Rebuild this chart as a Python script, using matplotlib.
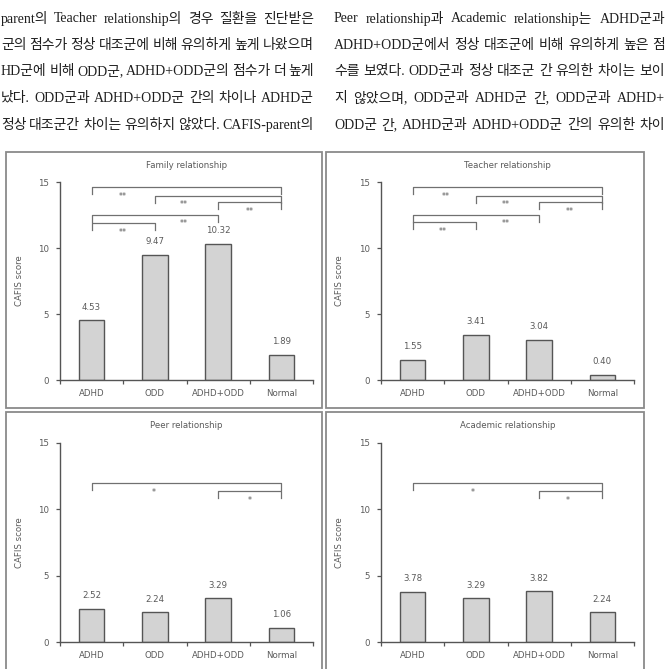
import matplotlib
matplotlib.use("Agg")
import matplotlib.pyplot as plt
import matplotlib.patches as mpatches

W, H = 667, 669  # figure size in pixels (dpi 100)

groups = ["ADHD", "ODD", "ADHD+ODD", "Normal"]
family_scores = [4.53, 9.47, 10.32, 1.89]
teacher_scores = [1.55, 3.41, 3.04, 0.40]
peer_scores = [2.52, 2.24, 3.29, 1.06]
academic_scores = [3.78, 3.29, 3.82, 2.24]

# significance brackets: (left group, right group, bracket height, mark, mark x)
family_sig = [
    (0, 3, 14.64, "**", 0.5),
    (1, 3, 13.97, "**", 1.45),
    (2, 3, 13.51, "**", 2.5),
    (0, 2, 12.53, "**", 1.45),
    (0, 1, 11.92, "**", 0.5),
]
teacher_sig = [
    (0, 3, 14.64, "**", 0.52),
    (1, 3, 13.97, "**", 1.48),
    (2, 3, 13.51, "**", 2.48),
    (0, 2, 12.53, "**", 1.48),
    (0, 1, 11.97, "**", 0.48),
]
peer_sig = [
    (0, 3, 11.98, "*", 0.98),
    (2, 3, 11.41, "*", 2.5),
]
academic_sig = [
    (0, 3, 11.98, "*", 0.95),
    (2, 3, 11.41, "*", 2.46),
]

# visible part of the body text above the figure (two justified columns)
left_lines = [
    "parent의 Teacher relationship의 경우 질환을 진단받은",
    "군의 점수가 정상 대조군에 비해 유의하게 높게 나왔으며",
    "HD군에 비해 ODD군, ADHD+ODD군의 점수가 더 높게",
    "났다. ODD군과 ADHD+ODD군 간의 차이나 ADHD군",
    "정상 대조군간 차이는 유의하지 않았다. CAFIS-parent의",
]
right_lines = [
    "Peer relationship과 Academic relationship는 ADHD군과",
    "ADHD+ODD군에서 정상 대조군에 비해 유의하게 높은 점",
    "수를 보였다. ODD군과 정상 대조군 간 유의한 차이는 보이",
    "지 않았으며, ODD군과 ADHD군 간, ODD군과 ADHD+",
    "ODD군 간, ADHD군과 ADHD+ODD군 간의 유의한 차이",
]

GRAY_TXT = "#5a5a5a"
FS = 6.2


def fx(px):
    return px / W


def fy(py):
    return 1 - py / H


def _justified(fig, line, x0, x1, y, **kw):
    # place words one by one so the line fills x0..x1 like the printed page
    r = fig.canvas.get_renderer()
    words = line.split(" ")
    arts = [fig.text(0, fy(y), w, ha="left", va="center", **kw) for w in words]
    widths = [a.get_window_extent(r).width for a in arts]
    gap = (x1 - x0 - sum(widths)) / max(len(words) - 1, 1)
    x = x0
    for a, w in zip(arts, widths):
        a.set_x(fx(x))
        x += w + gap


def _panel(fig, box, axbox, title, scores, sig):
    bx0, by0, bx1, by1 = box
    fig.patches.append(mpatches.Rectangle(
        (fx(bx0), fy(by1)), fx(bx1 - bx0), (by1 - by0) / H,
        transform=fig.transFigure, fill=False, edgecolor="#8a8a8a", lw=1.3))

    l, t, r, b = axbox
    ax = fig.add_axes([fx(l), fy(b), fx(r - l), (b - t) / H])
    x = range(len(groups))
    ax.bar(x, scores, width=0.4, color="#d3d3d3", edgecolor="#555555",
           linewidth=1.0, zorder=2)
    for i, v in enumerate(scores):
        ax.text(i, v + 1.0, f"{v:.2f}", ha="center", va="center",
                fontsize=FS, color=GRAY_TXT)

    for g1, g2, h, mark, mx in sig:
        leg = 0.55
        ax.plot([g1, g1, g2, g2], [h - leg, h, h, h - leg],
                color="#707070", lw=0.9, clip_on=False)
        ax.text(mx, h - 0.9, mark, ha="center", va="baseline",
                fontsize=FS - 0.5, color=GRAY_TXT)

    ax.set_xlim(-0.5, 3.5)
    ax.set_ylim(0, 15)
    for s in ("top", "right"):
        ax.spines[s].set_visible(False)
    for s in ("left", "bottom"):
        ax.spines[s].set_color("#555555")
        ax.spines[s].set_linewidth(1.0)
    ax.set_yticks([0, 5, 10, 15])
    ax.set_xticks([-0.5, 0.5, 1.5, 2.5, 3.5])
    ax.set_xticklabels([])
    ax.tick_params(axis="both", direction="out", length=3, width=0.9,
                   color="#555555", labelsize=FS, labelcolor=GRAY_TXT)
    ax.tick_params(axis="y", pad=5)
    for i, g in enumerate(groups):
        ax.annotate(g, xy=(i, 0), xytext=(0, -9.4), textcoords="offset points",
                    ha="center", va="center", fontsize=FS, color=GRAY_TXT,
                    annotation_clip=False)
    ax.text(0.5, 1 + 17 / (b - t), title, transform=ax.transAxes,
            ha="center", va="center", fontsize=FS, color=GRAY_TXT)
    ax.text(-41 / (r - l), 0.5, "CAFIS score", transform=ax.transAxes,
            rotation=90, ha="center", va="center", fontsize=FS, color=GRAY_TXT)
    ax.patch.set_alpha(0)
    return ax


def main():
    fig = plt.figure(figsize=(W / 100, H / 100), dpi=100)
    fig.patch.set_facecolor("white")

    txt_kw = dict(fontsize=10, family=["Liberation Serif", "Noto Sans CJK KR"],
                  color="#1e1e1e")
    line_y = [19, 45.5, 72, 98.5, 125]
    for y, s in zip(line_y, left_lines):
        _justified(fig, s, 1, 314, y, **txt_kw)
    for y, s in zip(line_y, right_lines):
        _justified(fig, s, 334, 665, y, **txt_kw)

    _panel(fig, (6, 152, 322, 408), (60, 182, 313, 380),
           "Family relationship", family_scores, family_sig)
    _panel(fig, (326, 152, 644, 408), (381, 182, 634, 380),
           "Teacher relationship", teacher_scores, teacher_sig)
    _panel(fig, (6, 412, 322, 690), (60, 443, 313, 642),
           "Peer relationship", peer_scores, peer_sig)
    _panel(fig, (326, 412, 644, 690), (381, 443, 634, 642),
           "Academic relationship", academic_scores, academic_sig)

    fig.savefig("out.png", dpi=100)
    plt.close(fig)


if __name__ == "__main__":
    main()
